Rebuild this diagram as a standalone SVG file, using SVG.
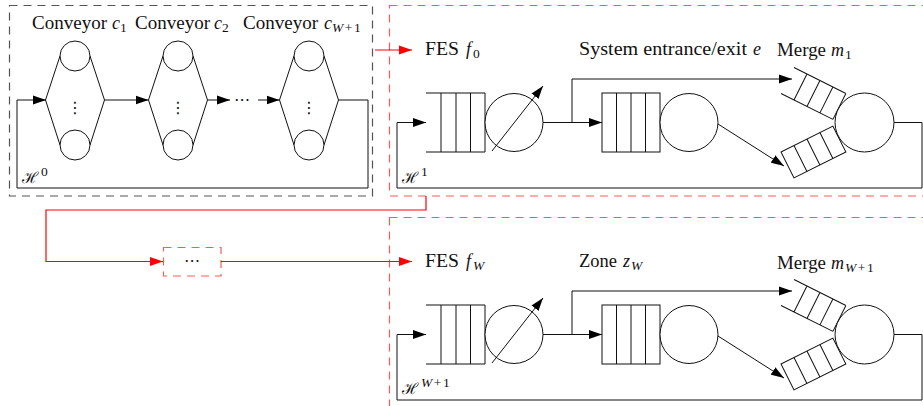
<svg xmlns="http://www.w3.org/2000/svg" width="923" height="406" viewBox="0 0 923 406">
<defs>
<style>
.ln{fill:none;stroke:#111;stroke-width:1}
.circ{fill:#fff;stroke:#111;stroke-width:1}
.gbox{fill:none;stroke:#555;stroke-width:1.2;stroke-dasharray:8 6}
.rbox{fill:none;stroke:#ff5a5a;stroke-width:1.2;stroke-dasharray:8 6}
.rl{fill:none;stroke:#f00;stroke-width:1.2}
.t{font-family:"Liberation Serif","DejaVu Serif",serif;font-size:18px;fill:#111}
.i{font-style:italic}
.s{font-size:13.5px}
.cal{font-family:"DejaVu Serif","Noto Sans",serif;font-size:15.5px;fill:#111}
.dots{font-family:"DejaVu Sans",sans-serif;font-size:16px;fill:#111;text-anchor:middle}
</style>
<marker id="ah" markerUnits="userSpaceOnUse" markerWidth="14" markerHeight="10" refX="13" refY="5" orient="auto"><path d="M0,0.6 L13,5 L0,9.4 z" fill="#000"/></marker>
<marker id="rh" markerUnits="userSpaceOnUse" markerWidth="14" markerHeight="10" refX="13" refY="5" orient="auto"><path d="M0,0.6 L13,5 L0,9.4 z" fill="#f00"/></marker>
<g id="conveyor">
<path class="ln" d="M-29.5,100 L-15,56 M-29.5,100 L-15,145 M29.5,100 L15,56 M29.5,100 L15,145"/>
<circle class="circ" cx="0" cy="56" r="15"/>
<circle class="circ" cx="0" cy="145" r="15"/>
<text class="dots" x="0" y="113">⋮</text>
</g>
<g id="tq-open">
<path class="ln" d="M0,0 H58 M0,29 H58 M14.5,0 V29 M29,0 V29 M43.5,0 V29 M58,0 V29"/>
</g>
<g id="tq-closed">
<rect class="ln" x="0" y="0" width="58" height="29"/>
<path class="ln" d="M14.5,0 V29 M29,0 V29 M43.5,0 V29"/>
</g>
</defs>
<rect width="923" height="406" fill="#fff"/>

<g id="box-H0">
<rect class="gbox" x="9.5" y="5.5" width="363" height="190.5"/>
<text class="cal" x="22" y="183">ℋ</text><text class="t s" x="41" y="176">0</text>
</g>
<g id="conveyor-c1">
<use href="#conveyor" x="75" y="0"/>
<text class="t" x="32" y="29" textLength="75" lengthAdjust="spacingAndGlyphs">Conveyor</text>
<text class="t i" x="112" y="29">c</text><text class="t s" x="120" y="32">1</text>
</g>
<g id="conveyor-c2">
<use href="#conveyor" x="178" y="0"/>
<text class="t" x="135" y="29" textLength="75" lengthAdjust="spacingAndGlyphs">Conveyor</text>
<text class="t i" x="214" y="29">c</text><text class="t s" x="222" y="32">2</text>
</g>
<g id="conveyor-cW1">
<use href="#conveyor" x="309" y="0"/>
<text class="t" x="243" y="29" textLength="75" lengthAdjust="spacingAndGlyphs">Conveyor</text>
<text class="t i" x="324" y="29">c</text><text class="t s" x="332" y="32"><tspan font-style="italic">W</tspan><tspan dx="1.5">+</tspan><tspan dx="1.5">1</tspan></text>
</g>

<g id="box-H1">
<rect class="rbox" x="389.5" y="5.5" width="560" height="190.5"/>
<text class="cal" x="402" y="183">ℋ</text><text class="t s" x="421" y="176">1</text>
</g>
<g id="fes-f0">
<path class="ln" d="M426,93 H485 M426,152 H485 M441,93 V152 M456,93 V152 M470.5,93 V152 M485,93 V152"/>
<circle class="circ" cx="514" cy="122.5" r="29"/>
<path class="ln" d="M492,151 L543,86" marker-end="url(#ah)"/>
<text class="t" x="425" y="55" textLength="34" lengthAdjust="spacingAndGlyphs">FES</text>
<text class="t i" x="466" y="55">f</text><text class="t s" x="473" y="58">0</text>
</g>
<g id="entrance-e">
<rect class="ln" x="602" y="93" width="58" height="59"/>
<path class="ln" d="M616.5,93 V152 M631,93 V152 M645.5,93 V152"/>
<circle class="circ" cx="689" cy="122.5" r="29"/>
<text class="t" x="579" y="55" textLength="168" lengthAdjust="spacingAndGlyphs">System entrance/exit</text>
<text class="t i" x="753" y="55">e</text>
</g>
<g id="merge-m1">
<use href="#tq-open" transform="translate(794,67.5) rotate(26.57)"/>
<use href="#tq-closed" transform="translate(781,152) rotate(-26.57)"/>
<circle class="circ" cx="864.5" cy="122.5" r="29.5"/>
<text class="t" x="777" y="56" textLength="49" lengthAdjust="spacingAndGlyphs">Merge</text>
<text class="t i" x="831" y="56">m</text><text class="t s" x="845" y="59">1</text>
</g>

<g id="dots-box">
<rect class="rbox" x="163.5" y="247.5" width="57.5" height="28.5"/>
<text class="dots" x="192" y="266">⋯</text>
</g>

<g id="box-HW1">
<rect class="rbox" x="389.5" y="217.5" width="560" height="200"/>
<text class="cal" x="402" y="394">ℋ</text><text class="t s" x="421" y="387"><tspan font-style="italic">W</tspan><tspan dx="1.5">+</tspan><tspan dx="1.5">1</tspan></text>
</g>
<g id="fes-fW" transform="translate(0,212)">
<path class="ln" d="M426,93 H485 M426,152 H485 M441,93 V152 M456,93 V152 M470.5,93 V152 M485,93 V152"/>
<circle class="circ" cx="514" cy="122.5" r="29"/>
<path class="ln" d="M492,151 L543,86" marker-end="url(#ah)"/>
<text class="t" x="425" y="55" textLength="34" lengthAdjust="spacingAndGlyphs">FES</text>
<text class="t i" x="466" y="55">f</text><text class="t s i" x="473" y="58">W</text>
</g>
<g id="zone-zW" transform="translate(0,212)">
<rect class="ln" x="602" y="93" width="58" height="59"/>
<path class="ln" d="M616.5,93 V152 M631,93 V152 M645.5,93 V152"/>
<circle class="circ" cx="689" cy="122.5" r="29"/>
<text class="t" x="579" y="55" textLength="38" lengthAdjust="spacingAndGlyphs">Zone</text>
<text class="t i" x="623" y="55">z</text><text class="t s i" x="631" y="58">W</text>
</g>
<g id="merge-mW1" transform="translate(0,212)">
<use href="#tq-open" transform="translate(794,67.5) rotate(26.57)"/>
<use href="#tq-closed" transform="translate(781,152) rotate(-26.57)"/>
<circle class="circ" cx="864.5" cy="122.5" r="29.5"/>
<text class="t" x="777" y="57" textLength="49" lengthAdjust="spacingAndGlyphs">Merge</text>
<text class="t i" x="831" y="57">m</text><text class="t s" x="845" y="60"><tspan font-style="italic">W</tspan><tspan dx="1.5">+</tspan><tspan dx="1.5">1</tspan></text>
</g>

<g id="connectors">
<path class="ln" d="M338.5,100 H368 V188 H17 V100 H46" marker-end="url(#ah)"/>
<path class="ln" d="M104.5,100 H148.5" marker-end="url(#ah)"/>
<path class="ln" d="M207.5,100 H230" marker-end="url(#ah)"/>
<text class="dots" x="242" y="105">⋯</text>
<path class="ln" d="M258,100 H279.5" marker-end="url(#ah)"/>

<path class="ln" d="M543,122.5 H602" marker-end="url(#ah)"/>
<path class="ln" d="M572,122.5 V79 H792" marker-end="url(#ah)"/>
<path class="ln" d="M718,124 L784,166" marker-end="url(#ah)"/>
<path class="ln" d="M894,122.5 H922 V188 H397 V122.5 H426" marker-end="url(#ah)"/>

<path class="ln" d="M543,334.5 H602" marker-end="url(#ah)"/>
<path class="ln" d="M572,334.5 V291 H792" marker-end="url(#ah)"/>
<path class="ln" d="M718,336 L784,378" marker-end="url(#ah)"/>
<path class="ln" d="M894,334.5 H922 V400 H397 V334.5 H426" marker-end="url(#ah)"/>

<path class="rl" d="M375,50 H412" marker-end="url(#rh)"/>
<path class="rl" d="M426,196 V210 H46 V261.5 H163" marker-end="url(#rh)"/>
<path class="rl" d="M221,261.5 H412" marker-end="url(#rh)"/>
</g>
</svg>
